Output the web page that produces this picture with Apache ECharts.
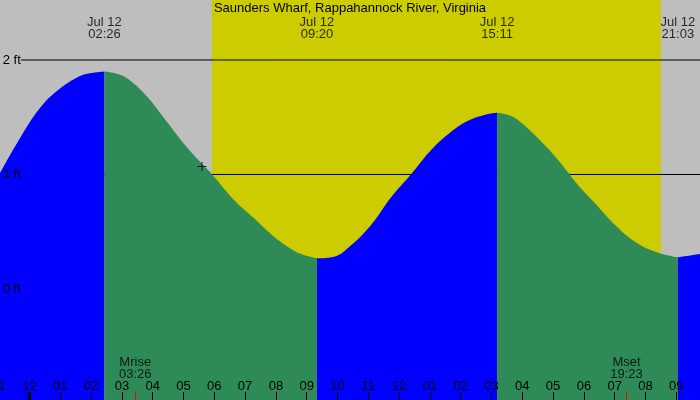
<!DOCTYPE html>
<html>
<head>
<meta charset="utf-8">
<script src="https://cdn.jsdelivr.net/npm/echarts@6/dist/echarts.min.js"></script>
<style>
  html, body { margin: 0; padding: 0; background: #bebebe; }
  #chart { width: 700px; height: 400px; }
</style>
</head>
<body>
<div id="chart"></div>
<script>
var stationName = 'Saunders Wharf, Rappahannock River, Virginia';

// tide level: hours from midnight Jul 12, feet
var tideHours = [
  -0.96, -0.31, 0.34, 0.99, 1.64, 1.96, 2.433,
  2.84, 3.17, 3.82, 4.46, 5.11, 5.93, 6.64, 7.29, 7.94, 8.59, 8.91, 9.333,
  9.89, 10.44, 11.09, 11.74, 12.39, 13.04, 13.69, 14.24, 14.89, 15.183,
  15.54, 15.86, 16.51, 17.16, 17.81, 18.36, 19.01, 19.66, 20.31, 21.05,
  21.77
];
var tideFeet = [
  1.01, 1.316, 1.58, 1.75, 1.86, 1.884, 1.90,
  1.88, 1.84, 1.68, 1.46, 1.238, 1.00, 0.777, 0.617, 0.457, 0.334, 0.297, 0.268,
  0.282, 0.382, 0.559, 0.801, 1.002, 1.214, 1.374, 1.47, 1.528, 1.54,
  1.52, 1.476, 1.316, 1.127, 0.908, 0.748, 0.559, 0.413, 0.326, 0.277,
  0.306
];

// highs and lows
var extremeHours = [2.433, 9.333, 15.183, 21.05];
var extremeLabels = ['Jul 12\n02:26', 'Jul 12\n09:20', 'Jul 12\n15:11', 'Jul 12\n21:03'];

// daylight
var sunriseHour = 5.92;
var sunsetHour = 20.50;

// moon
var moonHours = [3.433, 19.383];
var moonLabels = ['Mrise\n03:26', 'Mset\n19:23'];

// current time marker
var nowHour = 5.60;
var nowFeet = 1.07;

// tick labels, hours -1 .. 22
var hourLabels = ['11', '12', '01', '02', '03', '04', '05', '06', '07', '08', '09', '10', '11',
  '12', '01', '02', '03', '04', '05', '06', '07', '08', '09', '10'];
var feetLabels = ['0 ft', '1 ft', '2 ft'];
var ruleFeet = [1, 2];

var FONT = 'Liberation Sans';

// split the curve at every high/low so rising and falling water get their own colour
var segments = [];
var cur = [];
for (var i = 0; i < tideHours.length; i++) {
  cur.push([tideHours[i], tideFeet[i]]);
  if (extremeHours.indexOf(tideHours[i]) >= 0) {
    segments.push(cur);
    cur = [[tideHours[i], tideFeet[i]]];
  }
}
if (cur.length > 1) segments.push(cur);

var series = [];

// daylight band, under everything
series.push({
  type: 'line',
  data: [[-1, -1]],
  symbol: 'none',
  lineStyle: { opacity: 0 },
  silent: true,
  z: 0,
  markArea: {
    silent: true,
    itemStyle: { color: '#cccc00' },
    data: [[{ xAxis: sunriseHour }, { xAxis: sunsetHour }]]
  }
});

// horizontal rules, the water covers them
ruleFeet.forEach(function (f) {
  series.push({
    type: 'line',
    data: [[-0.276, f], [22, f]],
    symbol: 'none',
    silent: true,
    lineStyle: { color: '#000', width: 1 },
    z: 1
  });
});

segments.forEach(function (seg) {
  var rising = seg[seg.length - 1][1] > seg[0][1];
  series.push({
    type: 'line',
    data: seg,
    smooth: 0.4,
    symbol: 'none',
    silent: true,
    lineStyle: { width: 0, opacity: 0 },
    areaStyle: { color: rising ? '#0000ff' : '#2e8b57', opacity: 1, origin: 'start' },
    z: 2
  });
});

// high / low labels along the top
series.push({
  type: 'scatter',
  data: extremeHours.map(function (h) { return [h, 2.28]; }),
  symbolSize: 0,
  silent: true,
  z: 5,
  label: {
    show: true,
    position: 'inside',
    color: '#000',
    fontFamily: FONT,
    fontSize: 13,
    lineHeight: 12,
    formatter: function (p) { return extremeLabels[p.dataIndex]; }
  }
});

// moon rise/set labels and ticks
series.push({
  type: 'scatter',
  data: moonHours.map(function (h) { return [h, -0.69]; }),
  symbolSize: 0,
  silent: true,
  z: 5,
  label: {
    show: true,
    position: 'inside',
    color: '#000',
    fontFamily: FONT,
    fontSize: 13,
    lineHeight: 12,
    formatter: function (p) { return moonLabels[p.dataIndex]; }
  },
  markLine: {
    silent: true,
    symbol: ['none', 'none'],
    label: { show: false },
    data: moonHours.map(function (h) {
      return [{ xAxis: h, yAxis: -0.9, lineStyle: { color: '#ff0000', width: 1, type: 'solid' } },
              { xAxis: h, yAxis: -1 }];
    }).concat([[{ xAxis: 0, yAxis: -0.9, lineStyle: { color: '#000', width: 3, type: 'solid' } },
                { xAxis: 0, yAxis: -1 }]])
  }
});

// now marker
series.push({
  type: 'scatter',
  data: [[nowHour, nowFeet]],
  symbol: 'path://M4,0h1v9h-1zM0,4h9v1h-9z',
  symbolSize: 9,
  itemStyle: { color: '#000' },
  silent: true,
  z: 6
});

var chart = echarts.init(document.getElementById('chart'), null, { renderer: 'canvas' });
chart.setOption({
  animation: false,
  backgroundColor: '#bebebe',
  textStyle: { fontFamily: FONT },
  title: {
    text: stationName,
    left: 'center',
    top: 2,
    padding: 0,
    textStyle: { fontFamily: FONT, fontSize: 13, fontWeight: 'normal', color: '#000' }
  },
  grid: { left: -1.3, right: -7.1, top: 0, bottom: -3.5, outerBoundsMode: 'none' },
  xAxis: {
    type: 'value',
    min: -1,
    max: 22,
    interval: 1,
    z: 10,
    axisLine: { show: false, onZero: false },
    splitLine: { show: false },
    axisTick: { inside: true, length: 11.5, lineStyle: { color: '#000', width: 1 } },
    axisLabel: {
      inside: true,
      margin: 11,
      color: '#000',
      fontFamily: FONT,
      fontSize: 13,
      formatter: function (v) {
        return Number.isInteger(v) ? hourLabels[v + 1] : '';
      }
    }
  },
  yAxis: {
    type: 'value',
    min: -1,
    max: 2.524,
    interval: 1,
    z: 10,
    axisLine: { show: false, onZero: false },
    axisTick: { show: false },
    splitLine: { show: false },
    axisLabel: {
      inside: true,
      margin: 4,
      color: '#000',
      fontFamily: FONT,
      fontSize: 13,
      formatter: function (v) {
        return (Number.isInteger(v) && v >= 0) ? feetLabels[v] : '';
      }
    }
  },
  series: series
});
</script>
</body>
</html>
